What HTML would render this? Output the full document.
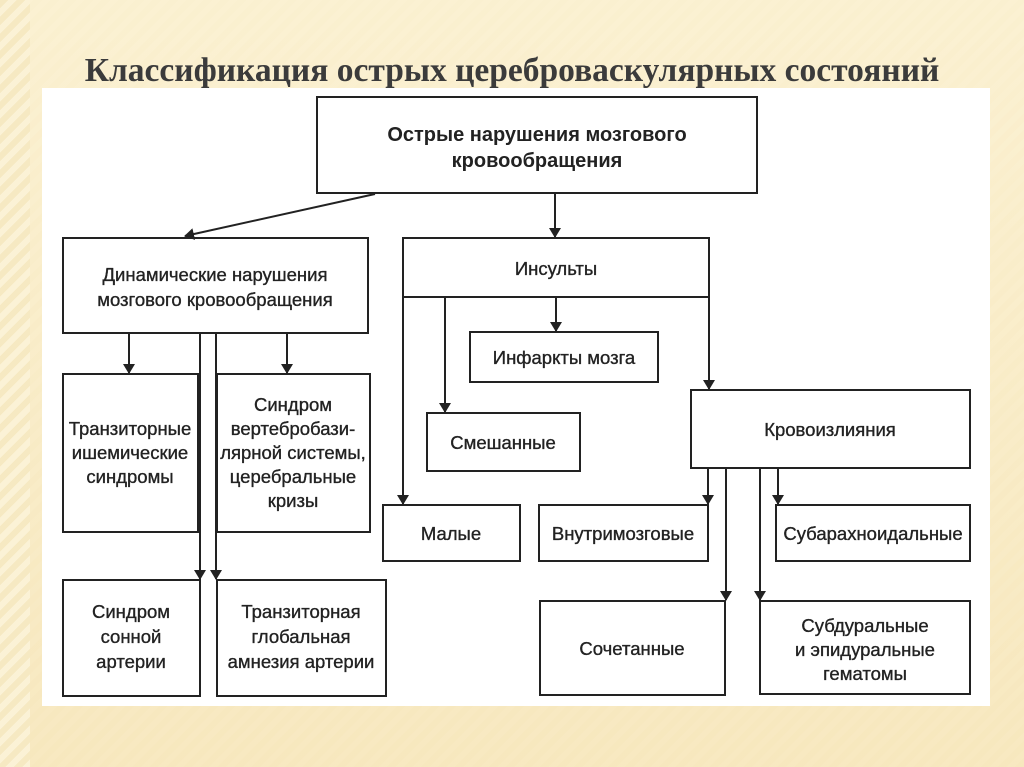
<!DOCTYPE html>
<html><head><meta charset="utf-8"><style>
html,body{margin:0;padding:0}
body{width:1024px;height:767px;overflow:hidden;position:relative;
background:repeating-linear-gradient(135deg,#f6e9c2 0 6px,#fbf2d6 6px 12px);}
.bgc{position:absolute;left:30px;top:0;width:994px;height:767px;background:linear-gradient(#fbf1d2,#f7e7bd);opacity:.85}
h1{position:absolute;left:0;width:1024px;top:52px;margin:0;text-align:center;font:bold 33.5px "Liberation Serif",serif;color:#3b3b3b;white-space:nowrap;z-index:2}
.panel{position:absolute;left:42px;top:88px;width:948px;height:618px;background:#fff}
svg{position:absolute;left:0;top:0}
text{font-family:"Liberation Sans","DejaVu Sans",sans-serif;font-size:18.5px;fill:#222;stroke:#222;stroke-width:0.35;text-anchor:middle}
</style></head><body>
<div class="bgc"></div>
<div class="panel"></div>
<h1>Классификация острых цереброваскулярных состояний</h1>
<svg width="1024" height="767" viewBox="0 0 1024 767">
<defs><marker id="a" markerWidth="10" markerHeight="12" refX="9" refY="6" orient="auto" markerUnits="userSpaceOnUse"><path d="M0,0 L10,6 L0,12 z" fill="#222"/></marker></defs>
<g fill="none" stroke="#222" stroke-width="2">
<rect x="317" y="97" width="440" height="96"/>
<rect x="63" y="238" width="305" height="95"/>
<rect x="403" y="238" width="306" height="59"/>
<rect x="470" y="332" width="188" height="50"/>
<rect x="427" y="413" width="153" height="58"/>
<rect x="383" y="505" width="137" height="56"/>
<rect x="691" y="390" width="279" height="78"/>
<rect x="539" y="505" width="169" height="56"/>
<rect x="776" y="505" width="194" height="56"/>
<rect x="540" y="601" width="185" height="94"/>
<rect x="760" y="601" width="210" height="93"/>
<rect x="63" y="374" width="135" height="158"/>
<rect x="217" y="374" width="153" height="158"/>
<rect x="63" y="580" width="137" height="116"/>
<rect x="217" y="580" width="169" height="116"/>
</g>
<g stroke="#222" stroke-width="2" marker-end="url(#a)">
<line x1="375" y1="194" x2="185" y2="236"/>
<line x1="555" y1="193" x2="555" y2="237"/>
<line x1="403" y1="297" x2="403" y2="504"/>
<line x1="445" y1="297" x2="445" y2="412"/>
<line x1="556" y1="297" x2="556" y2="331"/>
<line x1="709" y1="297" x2="709" y2="389"/>
<line x1="708" y1="468" x2="708" y2="504"/>
<line x1="778" y1="468" x2="778" y2="504"/>
<line x1="726" y1="468" x2="726" y2="600"/>
<line x1="760" y1="468" x2="760" y2="600"/>
<line x1="129" y1="333" x2="129" y2="373"/>
<line x1="287" y1="333" x2="287" y2="373"/>
<line x1="200" y1="333" x2="200" y2="579"/>
<line x1="216" y1="333" x2="216" y2="579"/>
</g>
<text x="537" y="141" font-weight="bold" style="font-size:20px;stroke-width:0">Острые нарушения мозгового</text>
<text x="537" y="167" font-weight="bold" style="font-size:20px;stroke-width:0">кровообращения</text>
<text x="215" y="281">Динамические нарушения</text>
<text x="215" y="306">мозгового кровообращения</text>
<text x="556" y="275">Инсульты</text>
<text x="564" y="364">Инфаркты мозга</text>
<text x="503" y="449">Смешанные</text>
<text x="451" y="540">Малые</text>
<text x="830" y="436">Кровоизлияния</text>
<text x="623" y="540">Внутримозговые</text>
<text x="873" y="540">Субарахноидальные</text>
<text x="632" y="655">Сочетанные</text>
<text x="865" y="632">Субдуральные</text>
<text x="865" y="656">и эпидуральные</text>
<text x="865" y="680">гематомы</text>
<text x="130" y="435">Транзиторные</text>
<text x="130" y="459">ишемические</text>
<text x="130" y="483">синдромы</text>
<text x="293" y="411">Синдром</text>
<text x="293" y="435">вертебробази-</text>
<text x="293" y="459">лярной системы,</text>
<text x="293" y="483">церебральные</text>
<text x="293" y="507">кризы</text>
<text x="131" y="618">Синдром</text>
<text x="131" y="643">сонной</text>
<text x="131" y="668">артерии</text>
<text x="301" y="618">Транзиторная</text>
<text x="301" y="643">глобальная</text>
<text x="301" y="668">амнезия артерии</text>
</svg>
</body></html>
